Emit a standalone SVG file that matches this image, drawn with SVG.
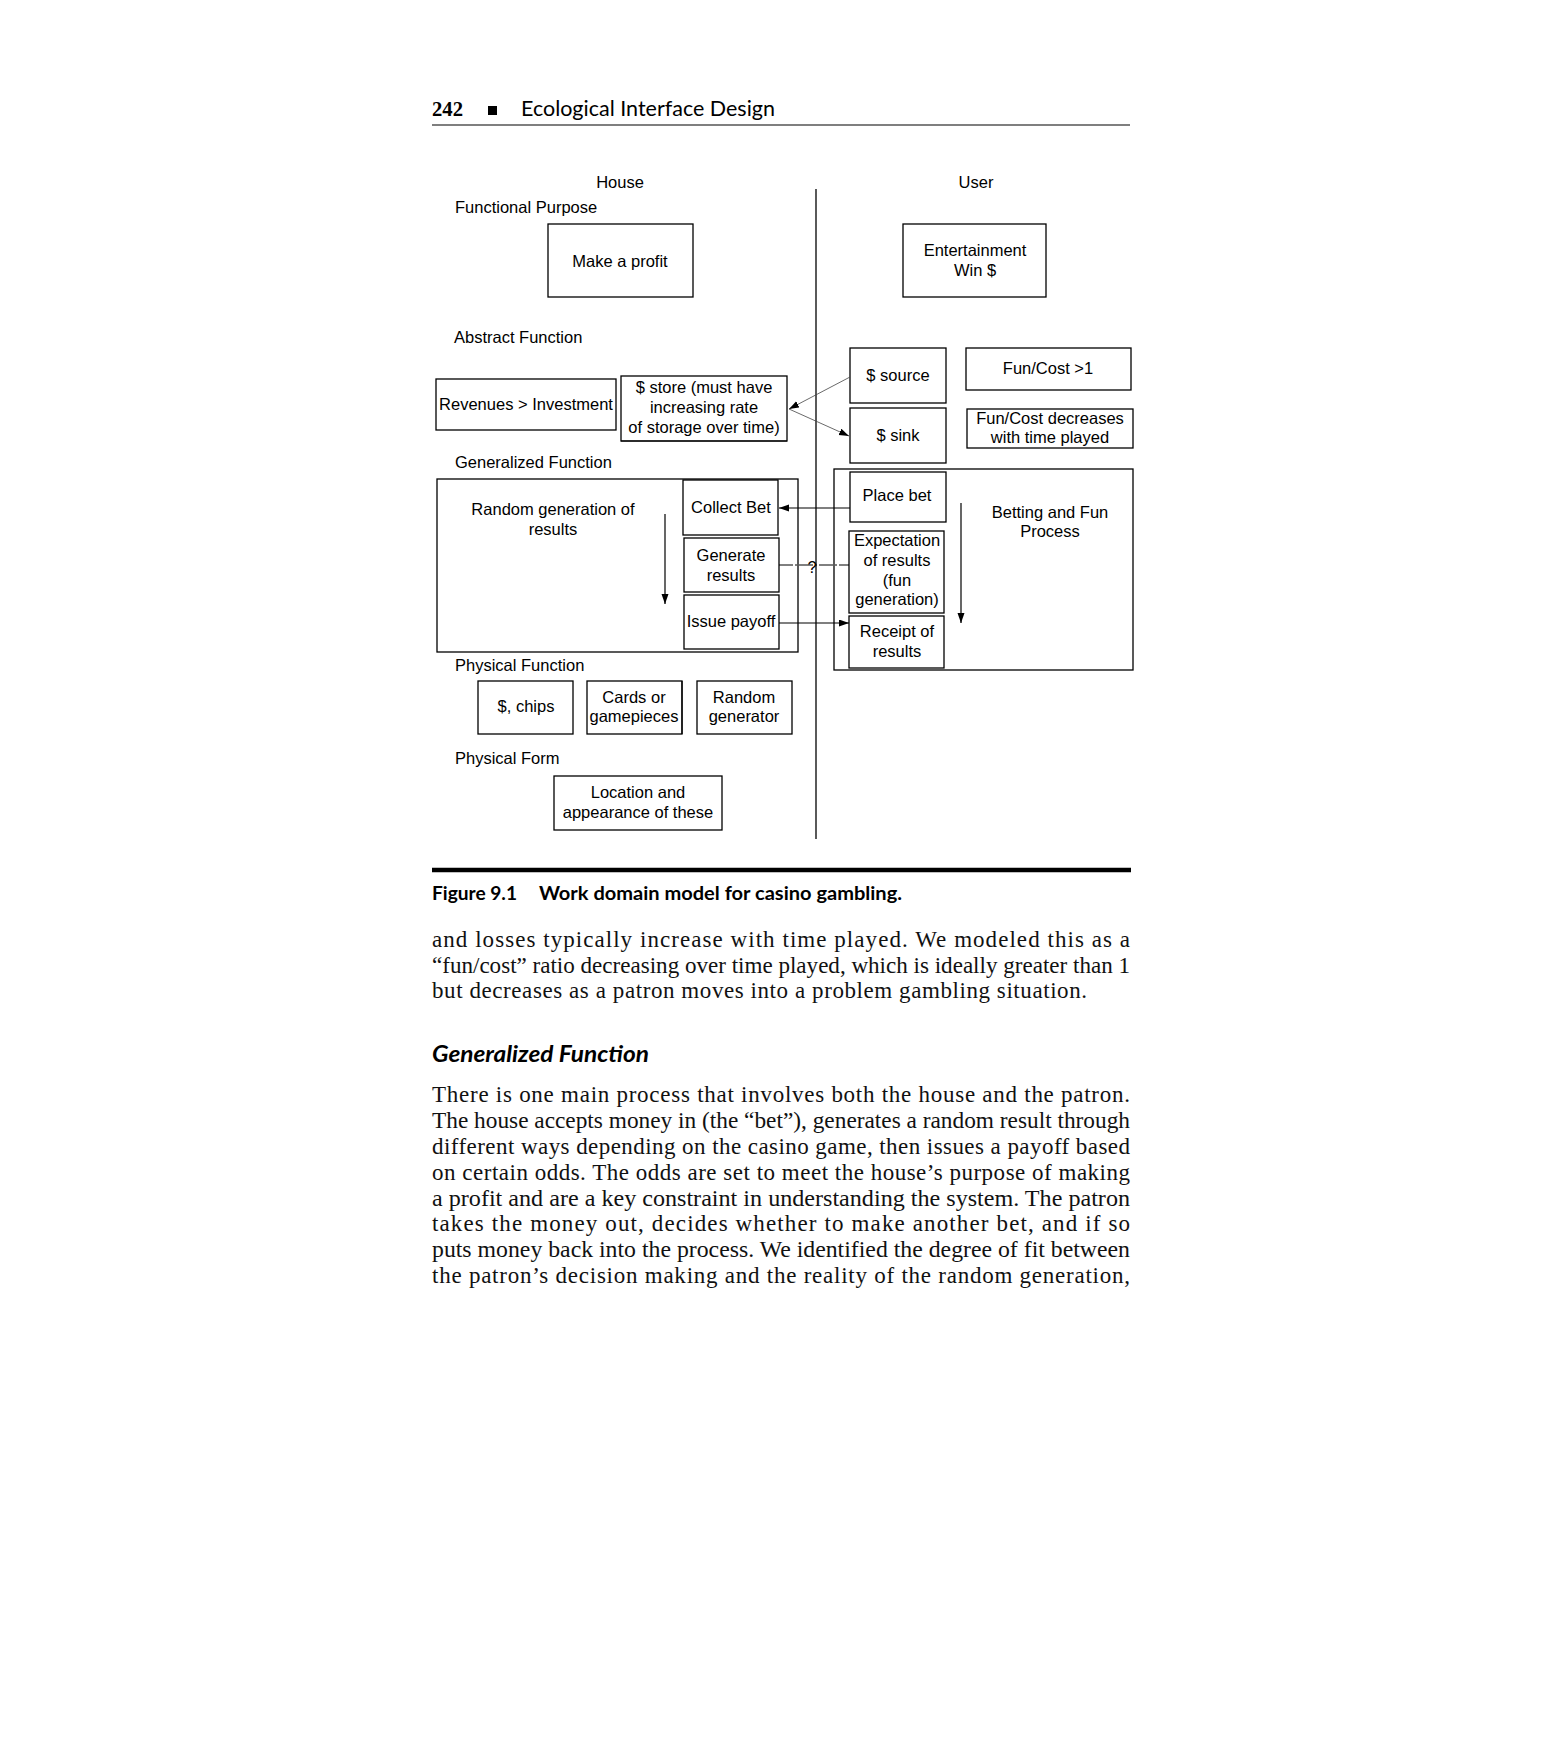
<svg xmlns="http://www.w3.org/2000/svg" width="1562" height="1754" viewBox="0 0 1562 1754">
<defs>
<style>
.bg{fill:#ffffff}
.box{fill:none;stroke:#000;stroke-width:1.3}
.t{font-family:"Liberation Sans",Arial,sans-serif;font-size:16.5px;fill:#000}
.c{text-anchor:middle}
.con{fill:none;stroke:#000;stroke-width:1.2}
.thin{fill:none;stroke:#444;stroke-width:0.8}
.dash{fill:none;stroke:#000;stroke-width:1;stroke-dasharray:14 2 2 2}
.body{font-family:"Liberation Serif","Times New Roman",serif;font-size:23px;fill:#111}
.hdr{font-family:Lato,"Open Sans",sans-serif;fill:#000}
</style>
<marker id="ah" markerUnits="userSpaceOnUse" markerWidth="11" markerHeight="8" refX="10" refY="3.5" orient="auto">
<path d="M0,0 L10,3.5 L0,7 z" fill="#000"/>
</marker>
</defs>
<rect class="bg" x="0" y="0" width="1562" height="1754"/>

<g id="page-header">
<text x="432" y="116" font-family="Liberation Serif,serif" font-weight="bold" font-size="21" fill="#000" textLength="31" lengthAdjust="spacingAndGlyphs">242</text>
<rect x="488" y="106" width="9" height="9" fill="#000"/>
<text class="hdr" x="521" y="116" font-size="21" textLength="254" lengthAdjust="spacingAndGlyphs">Ecological Interface Design</text>
<line x1="432" y1="125" x2="1130" y2="125" stroke="#000" stroke-width="1.2"/>
</g>

<g id="column-labels">
<text class="t c" x="620" y="188">House</text>
<text class="t c" x="976" y="188">User</text>
<text class="t" x="455" y="213">Functional Purpose</text>
<text class="t" x="454" y="343">Abstract Function</text>
<text class="t" x="455" y="468">Generalized Function</text>
<text class="t" x="455" y="671">Physical Function</text>
<text class="t" x="455" y="764">Physical Form</text>
</g>

<g id="divider">
<line x1="816" y1="189" x2="816" y2="839" stroke="#000" stroke-width="1.3"/>
</g>

<g id="make-profit">
<rect class="box" x="548" y="224" width="145" height="73"/>
<text class="t c" x="620" y="267">Make a profit</text>
</g>
<g id="entertainment">
<rect class="box" x="903" y="224" width="143" height="73"/>
<text class="t c" x="975" y="256">Entertainment</text>
<text class="t c" x="975" y="276">Win $</text>
</g>

<g id="revenues">
<rect class="box" x="436" y="379" width="180" height="51"/>
<text class="t c" x="526" y="410">Revenues &gt; Investment</text>
</g>
<g id="store">
<rect class="box" x="621" y="376" width="166" height="65"/>
<line x1="621" y1="441" x2="787" y2="441" stroke="#000" stroke-width="1.2"/>
<text class="t c" x="704" y="393">$ store (must have</text>
<text class="t c" x="704" y="413">increasing rate</text>
<text class="t c" x="704" y="433">of storage over time)</text>
</g>
<g id="source">
<rect class="box" x="850" y="348" width="96" height="55"/>
<text class="t c" x="898" y="381">$ source</text>
</g>
<g id="sink">
<rect class="box" x="850" y="408" width="96" height="55"/>
<text class="t c" x="898" y="441">$ sink</text>
</g>
<g id="funcost1">
<rect class="box" x="966" y="348" width="165" height="42"/>
<text class="t c" x="1048" y="374">Fun/Cost &gt;1</text>
</g>
<g id="funcost2">
<rect class="box" x="967" y="409" width="166" height="39"/>
<text class="t c" x="1050" y="424">Fun/Cost decreases</text>
<text class="t c" x="1050" y="443">with time played</text>
</g>

<g id="random-generation">
<rect class="box" x="437" y="479" width="361" height="173"/>
<text class="t c" x="553" y="515">Random generation of</text>
<text class="t c" x="553" y="535">results</text>
</g>
<g id="collect-bet">
<rect class="box" x="683" y="480" width="95" height="55"/>
<text class="t c" x="731" y="513">Collect Bet</text>
</g>
<g id="generate-results">
<rect class="box" x="684" y="538" width="95" height="54"/>
<text class="t c" x="731" y="561">Generate</text>
<text class="t c" x="731" y="581">results</text>
</g>
<g id="issue-payoff">
<rect class="box" x="684" y="595" width="95" height="54"/>
<text class="t c" x="731" y="627">Issue payoff</text>
</g>

<g id="betting-process">
<rect class="box" x="834" y="469" width="299" height="201"/>
<text class="t c" x="1050" y="518">Betting and Fun</text>
<text class="t c" x="1050" y="537">Process</text>
</g>
<g id="place-bet">
<rect class="box" x="850" y="472" width="96" height="50"/>
<text class="t c" x="897" y="501">Place bet</text>
</g>
<g id="expectation">
<rect class="box" x="849" y="531" width="95" height="82"/>
<text class="t c" x="897" y="546">Expectation</text>
<text class="t c" x="897" y="566">of results</text>
<text class="t c" x="897" y="586">(fun</text>
<text class="t c" x="897" y="605">generation)</text>
</g>
<g id="receipt">
<rect class="box" x="849" y="616" width="95" height="52"/>
<text class="t c" x="897" y="637">Receipt of</text>
<text class="t c" x="897" y="657">results</text>
</g>

<g id="chips">
<rect class="box" x="478" y="681" width="95" height="53"/>
<text class="t c" x="526" y="712">$, chips</text>
</g>
<g id="cards">
<rect class="box" x="587" y="681" width="95" height="53"/>
<line x1="682" y1="681" x2="682" y2="734" stroke="#000" stroke-width="1.2"/>
<text class="t c" x="634" y="703">Cards or</text>
<text class="t c" x="634" y="722">gamepieces</text>
</g>
<g id="random-generator">
<rect class="box" x="697" y="681" width="95" height="53"/>
<text class="t c" x="744" y="703">Random</text>
<text class="t c" x="744" y="722">generator</text>
</g>
<g id="location">
<rect class="box" x="554" y="776" width="168" height="54"/>
<text class="t c" x="638" y="798">Location and</text>
<text class="t c" x="638" y="818">appearance of these</text>
</g>

<g id="connectors">
<line class="thin" x1="850" y1="377" x2="789" y2="409" marker-end="url(#ah)"/>
<line class="thin" x1="789" y1="409" x2="849" y2="436" marker-end="url(#ah)"/>
<line class="con" x1="850" y1="508" x2="779" y2="508" marker-end="url(#ah)"/>
<line class="dash" x1="779" y1="565" x2="849" y2="565"/>
<text class="t c" x="812" y="573" font-size="14px">?</text>
<line class="con" x1="779" y1="623" x2="849" y2="623" marker-end="url(#ah)"/>
<line class="con" x1="665" y1="514" x2="665" y2="604" marker-end="url(#ah)"/>
<line class="con" x1="961" y1="503" x2="961" y2="623" marker-end="url(#ah)"/>
</g>

<g id="caption">
<line x1="432" y1="870" x2="1131" y2="870" stroke="#000" stroke-width="4.5"/>
<text class="hdr" x="432" y="900" font-size="19" font-weight="bold" textLength="85" lengthAdjust="spacingAndGlyphs">Figure 9.1</text>
<text class="hdr" x="539" y="900" font-size="19" font-weight="bold" textLength="363" lengthAdjust="spacingAndGlyphs">Work domain model for casino gambling.</text>
</g>

<g id="body-text">
<text class="body" x="432" y="947" textLength="698" lengthAdjust="spacing">and losses typically increase with time played. We modeled this as a</text>
<text class="body" x="432" y="973" textLength="698" lengthAdjust="spacingAndGlyphs">“fun/cost” ratio decreasing over time played, which is ideally greater than 1</text>
<text class="body" x="432" y="998" textLength="655" lengthAdjust="spacing">but decreases as a patron moves into a problem gambling situation.</text>
<text class="hdr" x="432" y="1062" font-size="22" font-weight="bold" font-style="italic" textLength="217" lengthAdjust="spacingAndGlyphs">Generalized Function</text>
<text class="body" x="432" y="1102" textLength="698" lengthAdjust="spacing">There is one main process that involves both the house and the patron.</text>
<text class="body" x="432" y="1128" textLength="698" lengthAdjust="spacingAndGlyphs">The house accepts money in (the “bet”), generates a random result through</text>
<text class="body" x="432" y="1154" textLength="698" lengthAdjust="spacing">different ways depending on the casino game, then issues a payoff based</text>
<text class="body" x="432" y="1180" textLength="698" lengthAdjust="spacing">on certain odds. The odds are set to meet the house’s purpose of making</text>
<text class="body" x="432" y="1206" textLength="698" lengthAdjust="spacingAndGlyphs">a profit and are a key constraint in understanding the system. The patron</text>
<text class="body" x="432" y="1231" textLength="698" lengthAdjust="spacing">takes the money out, decides whether to make another bet, and if so</text>
<text class="body" x="432" y="1257" textLength="698" lengthAdjust="spacingAndGlyphs">puts money back into the process. We identified the degree of fit between</text>
<text class="body" x="432" y="1283" textLength="698" lengthAdjust="spacing">the patron’s decision making and the reality of the random generation,</text>
</g>
</svg>
